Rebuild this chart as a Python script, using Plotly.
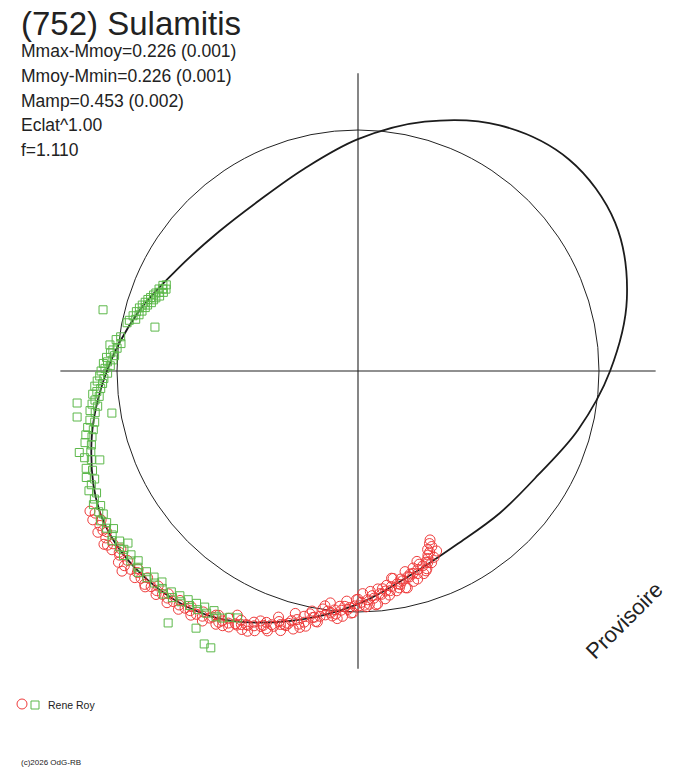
import plotly.graph_objects as go

# polar lightcurve of (752) Sulamitis: angle = phase (deg), radius = relative flux
curve_theta = [0, 15, 30, 45, 60, 75, 90, 105, 120, 135, 150, 165, 180, 195, 210, 225,
               240, 255, 270, 285, 300, 315, 330, 345, 360]
curve_r = [1.046, 1.155, 1.232, 1.240, 1.177, 1.071, 0.962, 0.868, 0.818, 0.817, 0.858, 0.944,
           1.042, 1.145, 1.225, 1.230, 1.182, 1.073, 0.967, 0.872, 0.828, 0.833, 0.863, 0.945, 1.046]

# session 1 (red circles)
red_theta = [207.6, 208.4, 209.3, 210.1, 210.9, 211.8, 212.6, 213.5, 214.3, 215.2, 216.0, 216.9, 217.7,
             218.6, 219.4, 220.3, 221.1, 222.0, 222.8, 223.7, 224.5, 225.4, 226.2, 227.1, 227.9, 228.8,
             229.6, 230.5, 231.3, 232.2, 233.0, 233.9, 234.7, 235.6,
             236.4, 237.3, 238.1, 239.0, 239.8, 240.7, 241.5, 242.4, 243.2, 244.1, 244.9, 245.8, 246.6,
             247.5, 248.3, 249.2, 250.0, 250.8, 251.7, 252.5, 253.4, 254.2, 255.1, 255.9,
             256.8, 257.6, 258.4, 259.2, 260.0, 260.8, 261.6, 262.4, 263.2, 264.0, 264.8, 265.6, 266.4,
             267.2, 268.0, 268.8, 269.6, 270.4, 271.2, 272.0, 272.8, 273.6, 274.4, 275.2, 276.0, 276.8,
             277.6, 278.4, 279.2, 280.0, 280.8, 281.6, 282.4, 283.2, 284.0, 284.8, 285.6, 286.4, 287.2,
             288.0, 288.8, 289.6, 290.4, 291.0, 291.6, 292.2, 292.8, 293.1, 293.6, 292.5, 291.3,
             240.3, 242.0, 243.7, 245.3, 247.0, 248.7, 250.4, 252.1, 253.8, 255.5, 257.2, 258.8, 260.4,
             262.0, 263.6, 265.2, 266.8, 268.4, 270.0, 271.6, 273.2, 274.8, 276.4, 278.0, 279.6, 281.2,
             282.8, 284.4, 286.0, 287.6, 289.2, 290.8,
             212.0, 214.8, 217.2, 219.8, 222.4, 225.0, 227.5, 230.0, 232.6, 235.0, 237.6, 239.4, 241.0,
             242.8, 244.5, 246.2, 247.8, 249.6, 251.2, 253.0, 254.6, 256.2, 257.9, 259.6, 261.2, 262.8,
             264.4, 266.0, 267.6, 269.2, 270.8, 272.4, 274.0, 275.6, 277.2, 278.8, 280.4, 282.0, 283.6,
             285.2, 286.8, 288.4, 290.0]
red_r = [1.255, 1.240, 1.262, 1.232, 1.248, 1.270, 1.238, 1.255, 1.276, 1.244, 1.262, 1.230, 1.250,
         1.272, 1.238, 1.284, 1.252, 1.228, 1.262, 1.245, 1.224, 1.258, 1.240, 1.218, 1.250, 1.232,
         1.214, 1.246, 1.226, 1.205, 1.238, 1.218, 1.198, 1.228,
         1.212, 1.188, 1.222, 1.196, 1.172, 1.205, 1.180, 1.158, 1.190, 1.166, 1.142, 1.176, 1.150,
         1.128, 1.160, 1.134, 1.110, 1.142, 1.116, 1.090, 1.124, 1.098, 1.072, 1.104,
         1.079, 1.042, 1.081, 1.014, 1.037, 1.055, 0.998, 1.021, 0.969, 1.022, 1.013, 0.979, 1.020,
         0.956, 0.982, 1.003, 0.949, 0.974, 0.924, 0.979, 0.969, 0.934, 0.973, 0.908, 0.932, 0.952,
         0.897, 0.921, 0.871, 0.926, 0.916, 0.881, 0.921, 0.855, 0.881, 0.903, 0.849, 0.876, 0.827,
         0.884, 0.876, 0.842, 0.830, 0.852, 0.808, 0.835, 0.790, 0.762, 0.815, 0.775, 0.795,
         1.167, 1.197, 1.130, 1.158, 1.173, 1.113, 1.135, 1.073, 1.096, 1.039, 1.091, 1.027, 1.054,
         0.984, 1.010, 1.031, 0.978, 1.005, 0.947, 0.972, 0.916, 0.970, 0.909, 0.939, 0.873, 0.903,
         0.923, 0.870, 0.898, 0.841, 0.869, 0.817,
         1.248, 1.266, 1.244, 1.262, 1.240, 1.252, 1.236, 1.230, 1.222, 1.214, 1.205, 1.186, 1.192,
         1.176, 1.168, 1.150, 1.142, 1.126, 1.112, 1.100, 1.086, 1.062, 1.066, 1.040, 1.030, 1.004,
         0.996, 0.995, 0.990, 0.975, 0.960, 0.950, 0.945, 0.928, 0.920, 0.905, 0.898, 0.890, 0.878,
         0.870, 0.860, 0.852, 0.846]

# session 2 (green squares)
green_theta = [155.8, 156.3, 156.9, 157.2, 157.6, 158.0, 158.4, 158.9, 159.3, 159.6, 160.1, 160.5, 160.8,
               161.2, 161.7, 162.1, 162.6, 163.0, 163.4, 163.9, 164.5, 165.0, 165.6, 166.2, 166.9, 167.5,
               168.2, 166.5, 167.8,
               171.8, 172.6, 173.4, 174.0, 174.6, 175.1,
               175.8, 176.4, 176.9, 177.4, 177.9, 178.3, 178.8, 179.4, 180.0, 180.5, 181.1, 181.7, 182.2,
               182.8, 183.3, 183.9, 184.5, 185.0, 185.6, 186.3, 186.5, 187.1, 187.7, 188.4, 189.0, 189.3,
               189.7, 190.4, 191.0, 191.8, 192.5, 193.2, 193.9, 194.7, 195.5, 196.3, 196.8, 197.6, 198.4,
               199.0, 199.7, 200.5, 201.4, 202.3, 203.1, 204.0,
               205.0, 205.9, 206.8, 207.6, 208.5, 209.3, 210.2, 211.1, 212.0, 212.8, 213.7, 214.6, 215.5,
               216.4, 216.8, 217.3, 218.2, 219.0, 219.9, 220.8, 221.7, 222.6, 223.5, 224.4, 225.3, 226.2,
               227.1, 228.0, 228.9, 229.8, 230.7, 231.6, 232.5, 233.4, 233.0, 234.3, 235.2, 236.1, 237.0,
               237.8, 238.0, 239.0, 240.0, 240.6, 241.2, 242.0, 242.5, 244.0]
green_r = [0.872, 0.884, 0.866, 0.879, 0.893, 0.871, 0.887, 0.899, 0.880, 0.905, 0.892, 0.913, 0.898,
           0.921, 0.903, 0.928, 0.915, 0.936, 0.921, 0.944, 0.930, 0.952, 0.938, 0.961, 0.947, 0.972,
           0.979, 1.088, 0.862,
           0.995, 1.012, 0.990, 1.035, 1.004, 1.021,
           1.030, 1.012, 1.045, 1.018, 1.040, 1.057, 1.028, 1.050, 1.066, 1.039, 1.072, 1.055, 1.083,
           1.061, 1.094, 1.070, 1.087, 1.105, 1.079, 1.098, 1.173, 1.112, 1.090, 1.124, 1.104, 1.181,
           1.036, 1.131, 1.113, 1.146, 1.125, 1.160, 1.137, 1.171, 1.148, 1.205, 1.158, 1.190, 1.166,
           1.133, 1.198, 1.176, 1.211, 1.181, 1.203, 1.222,
           1.197, 1.216, 1.230, 1.205, 1.224, 1.212, 1.236, 1.218, 1.231, 1.207, 1.226, 1.240, 1.215,
           1.230, 1.192, 1.221, 1.238, 1.212, 1.229, 1.205, 1.224, 1.236, 1.210, 1.226, 1.203, 1.219,
           1.195, 1.214, 1.228, 1.200, 1.215, 1.190, 1.207, 1.182, 1.309, 1.198, 1.174, 1.193, 1.168,
           1.261, 1.185, 1.160, 1.178, 1.300, 1.170, 1.301, 1.152, 1.140]

title = "(752) Sulamitis"
stats = ["Mmax-Mmoy=0.226 (0.001)", "Mmoy-Mmin=0.226 (0.001)", "Mamp=0.453 (0.002)",
         "Eclat^1.00", "f=1.110"]
observer = "Rene Roy"
credit = "(c)2026 OdG-RB"

# the page puts the figure 8 px in from the window corner
OFF = 8
W, H = 688 - OFF, 768 - OFF
cx, cy = 358, 371      # pole position in window px
unit = 241             # px for r = 1
rmax = 1.36
axis_r = 1.235
font = "Liberation Sans, Arial, sans-serif"
ink = "#222222"
red = "#ef3b3b"
green = "#5cb84a"


def px(x, y):
    return (x - OFF) / W, 1 - (y - OFF) / H


half = rmax * unit
dom_x = [(cx - OFF - half) / W, (cx - OFF + half) / W]
dom_y = [(H - (cy - OFF) - half) / H, (H - (cy - OFF) + half) / H]

fig = go.Figure()

# cross-hair axes
for th in [(0, 180), (90, 270)]:
    fig.add_trace(go.Scatterpolar(r=[axis_r, 0, axis_r], theta=[th[0], th[0], th[1]], mode="lines",
                                  line=dict(color=ink, width=1.1), hoverinfo="skip"))

fig.add_trace(go.Scatterpolar(r=curve_r, theta=curve_theta, mode="lines",
                              line=dict(color="#1c1c1c", width=1.8, shape="spline", smoothing=1),
                              hoverinfo="skip"))
fig.add_trace(go.Scatterpolar(r=red_r, theta=red_theta, mode="markers",
                              marker=dict(symbol="circle-open", size=10, color=red, line=dict(width=1))))
fig.add_trace(go.Scatterpolar(r=green_r, theta=green_theta, mode="markers",
                              marker=dict(symbol="square-open", size=8, color=green, line=dict(width=1))))

fig.update_layout(
    width=W, height=H,
    margin=dict(l=0, r=0, t=0, b=0),
    paper_bgcolor="white",
    showlegend=False,
    polar=dict(
        domain=dict(x=dom_x, y=dom_y),
        bgcolor="white",
        radialaxis=dict(range=[0, rmax], tickvals=[1], showgrid=True, gridcolor=ink, gridwidth=1,
                        showline=False, showticklabels=False, ticks=""),
        angularaxis=dict(showgrid=False, showline=False, showticklabels=False, ticks=""),
    ),
)

ann = []
tx, ty = px(19, 24)
ann.append(dict(text=title, x=tx, y=ty, font=dict(size=33, family=font, color=ink)))
for i, s in enumerate(stats):
    tx, ty = px(19, 51 + i * 24.8)
    ann.append(dict(text=s, x=tx, y=ty, font=dict(size=17.5, family=font, color=ink)))
tx, ty = px(46, 705)
ann.append(dict(text=observer, x=tx, y=ty, font=dict(size=10.5, family=font, color=ink)))
tx, ty = px(19, 762)
ann.append(dict(text=credit, x=tx, y=ty, font=dict(size=8, family=font, color=ink)))
for a in ann:
    a.update(xanchor="left")
tx, ty = px(624, 620)
ann.append(dict(text="Provisoire", x=tx, y=ty, xanchor="center", textangle=-45,
                font=dict(size=22, family=font, color=ink)))
for a in ann:
    a.update(xref="paper", yref="paper", yanchor="middle", showarrow=False)
fig.update_layout(annotations=ann)

# legend glyphs
x0, y0 = px(17, 709)
x1, y1 = px(27, 699)
fig.add_shape(type="circle", xref="paper", yref="paper", x0=x0, y0=y0, x1=x1, y1=y1,
              line=dict(color=red, width=1))
x0, y0 = px(31, 709)
x1, y1 = px(39, 701)
fig.add_shape(type="rect", xref="paper", yref="paper", x0=x0, y0=y0, x1=x1, y1=y1,
              line=dict(color=green, width=1))

fig.write_html("out.html")
